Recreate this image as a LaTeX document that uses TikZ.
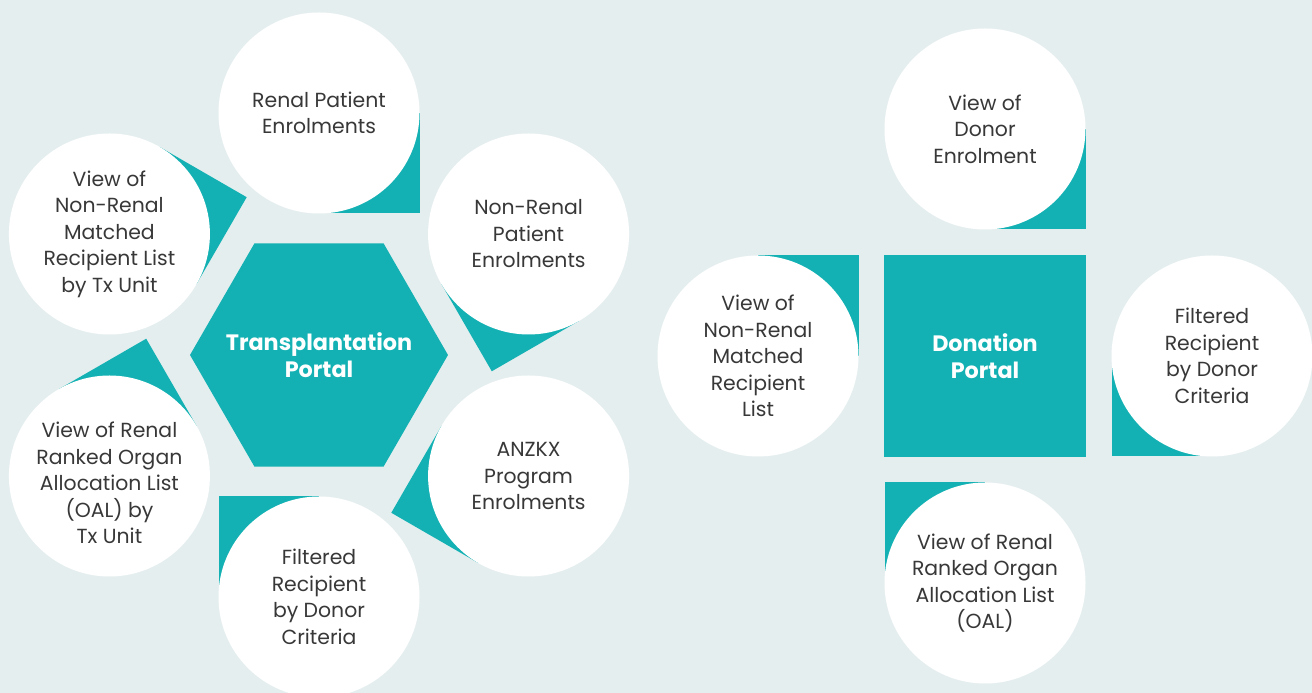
\documentclass[tikz,border=0pt]{standalone}
\usepackage{fontspec}
\setmainfont{Poppins}
\usetikzlibrary{shapes.geometric}
\definecolor{fond}{HTML}{E5EEEF}
\definecolor{sarcelle}{HTML}{13B1B3}
\definecolor{texte}{HTML}{383838}
\tikzset{
  bulle/.style={circle,fill=white,minimum size=201pt,inner sep=0pt,align=center,text=texte,font=\fontsize{20.4}{26.5}\selectfont},
  coin/.style={fill=sarcelle},
  portail/.style={fill=sarcelle,text=white,align=center,inner sep=0pt,font=\bfseries\fontsize{22.3}{27}\selectfont}
}
\begin{document}
\begin{tikzpicture}[x=1pt,y=1pt]
\fill[fond] (0,0) rectangle (1312,693);
\useasboundingbox (0,0) rectangle (1312,693);
			% Portail transplantation
\node[fill=sarcelle,regular polygon,regular polygon sides=6,inner sep=0pt,minimum size=258pt,
  label={[portail]center:Transplantation\\Portal}] (transplant) at (319,338) {};
\foreach \ang/\nom/\txt in {90/renal/{Renal Patient\\Enrolments},
    30/nonrenal/{Non-Renal\\Patient\\Enrolments},
    -30/anzkx/{ANZKX\\Program\\Enrolments},
    -90/filtre/{Filtered\\Recipient\\by Donor\\Criteria},
    -150/oal/{\rule{0pt}{30pt}View of Renal\\Ranked Organ\\Allocation List\\(OAL) by\\Tx Unit},
    150/matched/{View of\\Non-Renal\\Matched\\Recipient List\\by Tx Unit}}{
  \fill[coin] (transplant.center) ++(\ang:242) -- ++(\ang+180:100.5) -- ++(\ang+270:100.5) -- ++(\ang:100.5) -- cycle;
  \node[bulle] (\nom) at ([shift={(\ang:242)}]transplant.center) {\txt};
}
			% Portail don
\node[portail,rectangle,minimum size=202pt] (don) at (985,337) {Donation\\Portal};
\foreach \ang/\nom/\txt in {90/donneur/{View of\\Donor\\Enrolment},
    0/dfiltre/{Filtered\\Recipient\\by Donor\\Criteria},
    -90/doal/{View of Renal\\Ranked Organ\\Allocation List\\(OAL)},
    180/dmatched/{View of\\Non-Renal\\Matched\\Recipient\\List}}{
  \fill[coin] (don.center) ++(\ang:227) -- ++(\ang+180:100.5) -- ++(\ang+270:100.5) -- ++(\ang:100.5) -- cycle;
  \node[bulle] (\nom) at ([shift={(\ang:227)}]don.center) {\txt};
}
\end{tikzpicture}
\end{document}
